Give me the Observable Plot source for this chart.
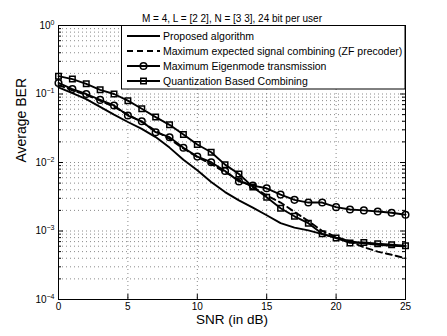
<!DOCTYPE html>
<html>
<head>
<meta charset="utf-8">
<script src="https://cdn.jsdelivr.net/npm/d3@7"></script>
<script src="https://cdn.jsdelivr.net/npm/@observablehq/plot@0.6"></script>
<style>
  html, body { margin: 0; padding: 0; background: #fff; }
  #wrap { position: relative; width: 447px; height: 336px; font-family: "Liberation Sans", Arial, sans-serif; }
  #legend { position: absolute; left: 121px; top: 25px; }
</style>
</head>
<body>
<div id="wrap"></div>
<script>
// ---- data ----
const titleText = "M = 4, L = [2 2], N = [3 3], 24 bit per user";
const xLabel = "SNR (in dB)";
const yLabel = "Average BER";
const snr = [0,1,2,3,4,5,6,7,8,9,10,11,12,13,14,15,16,17,18,19,20,21,22,23,24,25];
const proposed = [0.125,0.103,0.084,0.065,0.05,0.039,0.031,0.0235,0.0165,0.011,0.0077,0.0052,0.0037,0.0028,0.0022,0.0017,0.0013,0.00112,0.00102,0.0009,0.0008,0.00071,0.00066,0.00063,0.00061,0.0006];
const zfCombining = [0.135,0.113,0.097,0.08,0.065,0.05,0.039,0.029,0.022,0.016,0.012,0.0095,0.0072,0.0056,0.0044,0.0033,0.0026,0.0019,0.0014,0.001,0.00082,0.0007,0.00058,0.0005,0.00045,0.0004];
const eigenmode = [0.145,0.118,0.1,0.082,0.068,0.0485,0.04,0.0277,0.0234,0.0164,0.0122,0.0101,0.0075,0.0053,0.0046,0.0042,0.0034,0.00285,0.0026,0.0026,0.00223,0.00206,0.002,0.00193,0.00185,0.00173];
const quantization = [0.182,0.165,0.141,0.115,0.1,0.08,0.061,0.046,0.0355,0.0257,0.0183,0.0141,0.0093,0.0068,0.0044,0.0031,0.00215,0.00164,0.0013,0.00091,0.00079,0.00067,0.00068,0.00065,0.00063,0.00061];
const seriesNames = ["Proposed algorithm", "Maximum expected signal combining (ZF precoder)", "Maximum Eigenmode transmission", "Quantization Based Combining"];
const xTicks = [0,5,10,15,20,25];
const xGridTicks = [5,10,15,20];
const yTicks = [1e-4,1e-3,1e-2,1e-1,1];
const minorMultipliers = [2,3,4,5,6,7,8,9];

// ---- layout ----
const W = 447, H = 336;
const mTop = 25, mRight = 42, mBottom = 37, mLeft = 58;
const plotW = W - mLeft - mRight, plotH = H - mTop - mBottom;

const rows = (ys) => snr.map((x, i) => ({x, y: ys[i]}));
const P = rows(proposed), Z = rows(zfCombining), E = rows(eigenmode), Q = rows(quantization);
const yMinor = yTicks.slice(0, -1).flatMap(d => minorMultipliers.map(m => d * m));
const yGrid = yTicks.concat(yMinor);

const lineW = 1.9;
const gridStyle = {stroke: "#8a8a8a", strokeOpacity: 1, strokeDasharray: "1,3"};
const plot = Plot.plot({
  width: W, height: H,
  marginTop: mTop, marginRight: mRight, marginBottom: mBottom, marginLeft: mLeft,
  style: {fontFamily: '"Liberation Sans", Arial, sans-serif', fontSize: "10px", background: "#fff", color: "#000", overflow: "visible"},
  x: {domain: [0, 25]},
  y: {type: "log", domain: [1e-4, 1]},
  marks: [
    Plot.gridY(yGrid, gridStyle),
    Plot.gridX(xGridTicks, gridStyle),
    Plot.line(P, {x: "x", y: "y", stroke: "#000", strokeWidth: lineW}),
    Plot.line(Z, {x: "x", y: "y", stroke: "#000", strokeWidth: lineW, strokeDasharray: "6,4"}),
    Plot.line(E, {x: "x", y: "y", stroke: "#000", strokeWidth: lineW}),
    Plot.line(Q, {x: "x", y: "y", stroke: "#000", strokeWidth: lineW}),
    Plot.dot(E, {x: "x", y: "y", symbol: "circle", r: 3.3, stroke: "#000", strokeWidth: 1.5, fill: "none"}),
    Plot.dot(Q, {x: "x", y: "y", symbol: "square", r: 3.1, stroke: "#000", strokeWidth: 1.5, fill: "none"}),
    Plot.frame({stroke: "#000", strokeWidth: 1}),
    // inward ticks
    Plot.tickX(xTicks, {x: d => d, insetTop: plotH - 5, stroke: "#000"}),
    Plot.tickX(xTicks, {x: d => d, insetBottom: plotH - 5, stroke: "#000"}),
    Plot.tickY(yTicks, {y: d => d, insetRight: plotW - 5, stroke: "#000"}),
    Plot.tickY(yTicks, {y: d => d, insetLeft: plotW - 5, stroke: "#000"}),
    Plot.tickY(yMinor, {y: d => d, insetRight: plotW - 3, stroke: "#000"}),
    Plot.tickY(yMinor, {y: d => d, insetLeft: plotW - 3, stroke: "#000"}),
    Plot.axisX(xTicks, {tickSize: 0, tickPadding: 3, label: null, fontSize: 10}),
    Plot.axisY(yTicks, {tickSize: 0, tickPadding: 4, label: null, fontSize: 10,
      tickFormat: d => "10^" + Math.round(Math.log10(d))}),
    Plot.text([titleText], {text: d => d, frameAnchor: "top", dy: -11, fontSize: 10}),
    Plot.text([xLabel], {text: d => d, frameAnchor: "bottom", dy: 24, fontSize: 13.5}),
    Plot.text([yLabel], {text: d => d, frameAnchor: "left", dx: -37, rotate: -90, fontSize: 14})
  ]
});

// superscript exponents on y tick labels
const NS = "http://www.w3.org/2000/svg";
plot.querySelectorAll('[aria-label="y-axis tick label"] text').forEach(t => {
  const s = t.textContent;
  if (!s.includes("^")) return;
  const [b, e] = s.split("^");
  t.textContent = "";
  const t1 = document.createElementNS(NS, "tspan");
  t1.textContent = b;
  const t2 = document.createElementNS(NS, "tspan");
  t2.setAttribute("dy", "-0.55em");
  t2.setAttribute("font-size", "7");
  t2.textContent = e.replace("-", "\u2212");
  t.appendChild(t1); t.appendChild(t2);
});

const wrap = document.getElementById("wrap");
wrap.appendChild(plot);

// ---- legend ----
const lg = d3.create("svg").attr("id", "legend").attr("width", 285).attr("height", 65);
lg.append("rect").attr("x", 0.5).attr("y", 0.5).attr("width", 283.5).attr("height", 63.5)
  .attr("fill", "#fff").attr("stroke", "#000").attr("stroke-width", 1);
const styles = [
  {dash: null, marker: null},
  {dash: "6,4", marker: null},
  {dash: null, marker: "circle"},
  {dash: null, marker: "square"}
];
seriesNames.forEach((name, i) => {
  const cy = 11 + i * 15;
  const g = lg.append("g");
  g.append("line").attr("x1", 6).attr("x2", 39).attr("y1", cy).attr("y2", cy)
    .attr("stroke", "#000").attr("stroke-width", lineW)
    .attr("stroke-dasharray", styles[i].dash);
  if (styles[i].marker === "circle") {
    g.append("circle").attr("cx", 22.5).attr("cy", cy).attr("r", 3.3)
      .attr("fill", "none").attr("stroke", "#000").attr("stroke-width", 1.5);
  } else if (styles[i].marker === "square") {
    g.append("rect").attr("x", 19.75).attr("y", cy - 2.75).attr("width", 5.5).attr("height", 5.5)
      .attr("fill", "none").attr("stroke", "#000").attr("stroke-width", 1.5);
  }
  g.append("text").attr("x", 42).attr("y", cy).attr("dy", "0.35em")
    .attr("font-family", '"Liberation Sans", Arial, sans-serif').attr("font-size", 10.5)
    .attr("fill", "#000").text(name);
});
wrap.appendChild(lg.node());
</script>
</body>
</html>
